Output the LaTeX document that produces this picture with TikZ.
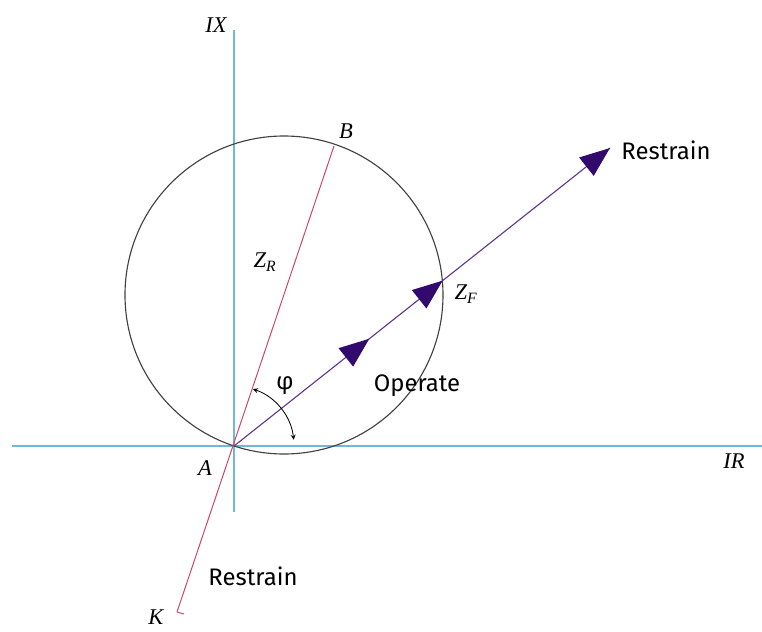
\documentclass[tikz,border=0pt]{standalone}
\usepackage{fontspec}
\setsansfont{Fira Sans}
\newfontfamily\lblserif{Liberation Serif}
\usetikzlibrary{arrows.meta,calc,decorations.markings}

\definecolor{axisblue}{RGB}{110,185,215}
\definecolor{zrred}{RGB}{205,70,100}
\definecolor{zfline}{RGB}{95,55,145}
\definecolor{tipblue}{RGB}{50,10,110}

\begin{document}
\begin{tikzpicture}[x=0.025cm,y=0.025cm,>=stealth,
		axis/.style={axisblue,line width=1pt},
		circ/.style={black!75,line width=0.8pt},
		zr/.style={zrred,line width=0.7pt},
		zf/.style={zfline,line width=0.8pt},
		lbl/.style={font=\fontsize{16}{18}\selectfont\lblserif\itshape},
		txt/.style={font=\fontsize{17}{19}\selectfont\sffamily},
		tip/.style={tipblue,fill=tipblue}]
			\useasboundingbox (-234,-185) rectangle (528,446);

			% axes
			\coordinate (A) at (0,0);
			\coordinate (axW) at (-222,0);
			\coordinate (axE) at (528,0);
			\coordinate (axS) at (0,-66);
			\coordinate (axN) at (0,416);
			\draw [axis] (axW) -- (axE);
			\draw [axis] (axS) -- (axN);

			% mho circle
			\coordinate (O) at (50,151);
			\draw [circ] (O) circle (159);

			% Z_R line, K to B
			\coordinate (B) at (100,300);
			\coordinate (K) at (-57,-166);
			\draw [zr] (K) -- (B);
			\draw [zr] (K) -- ++(7,-2);

			% Z_F line with arrow heads
			\coordinate (R) at (376,298);
			\draw [zf, postaction={decorate}, decoration={markings,
				mark=at position 0.36 with {\arrow[tip]{Triangle[length=0.75cm,width=0.58cm]}},
				mark=at position 0.555 with {\arrow[tip]{Triangle[length=0.75cm,width=0.58cm]}},
				mark=at position 1 with {\arrow[tip]{Triangle[length=0.75cm,width=0.58cm]}}}] (A) -- (R);

			% angle phi
			\draw [<->, line width=0.6pt] ($(A)+(71.57:60)$) arc (71.57:6:60);
			\node [txt] (phi) at (51,60) {φ};

			% labels
			\node [lbl] (IX) at (-18,421) {IX};
			\node [lbl] (lblB) at (112,315) {B};
			\node [lbl] (ZR) at (31,184) {Z\textsubscript{R}};
			\node [lbl] (lblA) at (-29,-22) {A};
			\node [lbl] (IR) at (500,-15) {IR};
			\node [lbl] (lblK) at (-78,-171) {K};
			\node [lbl] (ZF) at (232,152) {Z\textsubscript{F}};
			\node [txt] (resUp) at (432,296) {Restrain};
			\node [txt] (resDown) at (19,-130) {Restrain};
			\node [txt] (op) at (183,60) {Operate};
		\end{tikzpicture}
\end{document}
